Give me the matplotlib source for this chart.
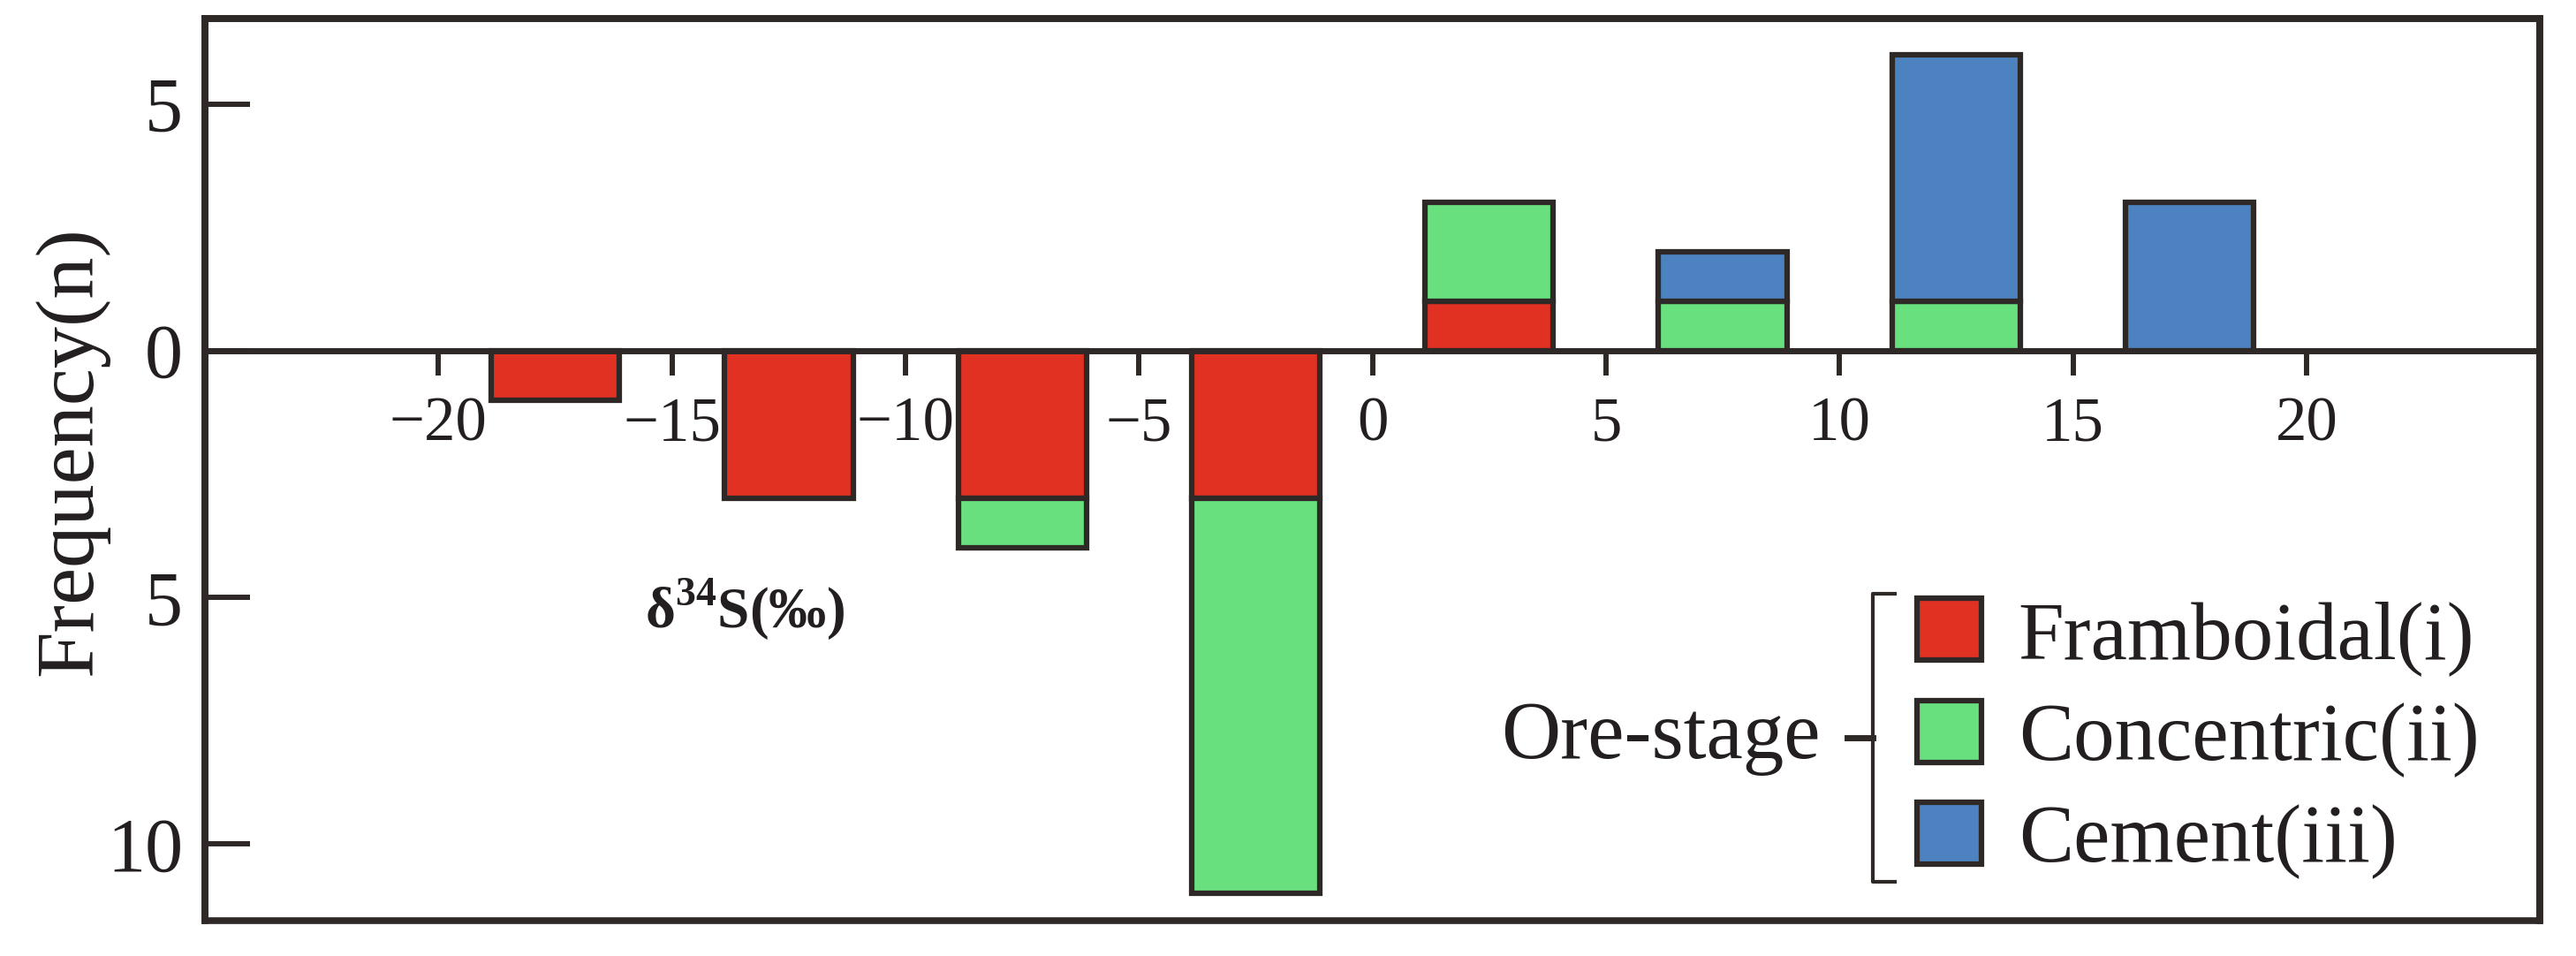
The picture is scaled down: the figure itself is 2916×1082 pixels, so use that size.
import matplotlib
matplotlib.use('Agg')
import matplotlib.pyplot as plt
from matplotlib.patches import Patch, Rectangle
from matplotlib.lines import Line2D
import numpy as np

plt.rcParams['font.family'] = ['Liberation Serif', 'DejaVu Serif']
plt.rcParams['mathtext.fontset'] = 'custom'
plt.rcParams['mathtext.rm'] = 'Liberation Serif'
plt.rcParams['mathtext.bf'] = 'Liberation Serif:bold'

# bin centres of the d34S histogram (permil)
bin_centers = [-17.5, -12.5, -7.5, -2.5, 2.5, 7.5, 12.5, 17.5]
# counts per pyrite type; negative bins are drawn downward
framboidal = [-1, -3, -3, -3, 1, 0, 0, 0]
concentric = [0, 0, -1, -8, 2, 1, 1, 0]
cement = [0, 0, 0, 0, 0, 1, 5, 3]

series_names = ['Framboidal(i)', 'Concentric(ii)', 'Cement(iii)']
series_colors = ['#E03122', '#68E07E', '#4B82BF']

x_ticks = [-20, -15, -10, -5, 0, 5, 10, 15, 20]
x_ticklabels = ['\u221220', '\u221215', '\u221210', '\u22125', '0', '5', '10', '15', '20']
y_ticks = [5, 0, -5, -10]
y_ticklabels = ['5', '0', '5', '10']

dark = '#2E2826'
text_color = '#231F20'
bar_width = 2.75

fig = plt.figure(figsize=(29.16, 10.82), dpi=100)
fig.patch.set_facecolor('white')
ax = fig.add_axes([0.0796, 0.037, 0.9064, 0.9436])

ax.set_xlim(-25, 25)
ax.set_ylim(-11.55, 6.73)

# stacked bars, growing away from zero on each side
x = np.array(bin_centers)
pos_base = np.zeros(len(x))
neg_base = np.zeros(len(x))
for vals, color in zip([framboidal, concentric, cement], series_colors):
    vals = np.array(vals, dtype=float)
    base = np.where(vals >= 0, pos_base, neg_base)
    keep = vals != 0
    ax.bar(x[keep], vals[keep], width=bar_width, bottom=base[keep],
           color=color, edgecolor=dark, linewidth=4.5, zorder=3)
    pos_base = pos_base + np.where(vals > 0, vals, 0)
    neg_base = neg_base + np.where(vals < 0, vals, 0)

# frame around the plot, the x axis sits on zero
for side in ['left', 'right', 'top']:
    ax.spines[side].set_linewidth(5.5)
    ax.spines[side].set_color(dark)
ax.spines['bottom'].set_position(('data', 0))
ax.spines['bottom'].set_linewidth(5)
ax.spines['bottom'].set_color(dark)
ax.spines['bottom'].set_zorder(4)
ax.add_patch(Rectangle((0, 0), 1, 1, transform=ax.transAxes, fill=False,
                       edgecolor=dark, linewidth=5.5, clip_on=False, zorder=5))

ax.set_xticks(x_ticks)
ax.set_xticklabels(x_ticklabels)
ax.set_yticks(y_ticks)
ax.set_yticklabels(y_ticklabels)
ax.tick_params(axis='x', direction='out', length=20, width=4.3, color=dark,
               labelsize=51, pad=17, labelcolor=text_color)
ax.tick_params(axis='y', direction='in', length=37, width=4.3, color=dark,
               labelsize=62, pad=18, labelcolor=text_color)

ax.set_ylabel('Frequency(n)', fontsize=68, color=text_color)
ax.yaxis.set_label_coords(-0.041, 0.52)

ax.text(-13.45, -5.25, '\u03b4$^{\\mathbf{34}}$S(\u2030)', fontsize=47,
        fontweight='bold', color=text_color, ha='center', va='center')

# legend with the bracket
handles = [Patch(facecolor=c, edgecolor=dark, linewidth=4.5) for c in series_colors]
leg = ax.legend(handles, series_names, loc='upper left',
                bbox_to_anchor=(0.7333, 0.357), frameon=False, fontsize=67,
                borderpad=0, borderaxespad=0, handlelength=0.78,
                handleheight=0.78, handletextpad=0.45, labelspacing=0.3)
for t in leg.get_texts():
    t.set_color(text_color)

bx, sx, nx = 0.7143, 0.7238, 0.7034
ytop, ybot, ymid = 0.3625, 0.0432, 0.2024
ax.add_line(Line2D([sx, bx, bx, sx], [ytop, ytop, ybot, ybot],
                   transform=ax.transAxes, color=dark, linewidth=3,
                   clip_on=False))
ax.add_line(Line2D([bx, nx], [ymid, ymid], transform=ax.transAxes,
                   color=dark, linewidth=5, clip_on=False))
ax.text(0.692, ymid, 'Ore-stage', transform=ax.transAxes, fontsize=67,
        color=text_color, ha='right', va='center')

fig.savefig('out.png', dpi=100, facecolor='white')
